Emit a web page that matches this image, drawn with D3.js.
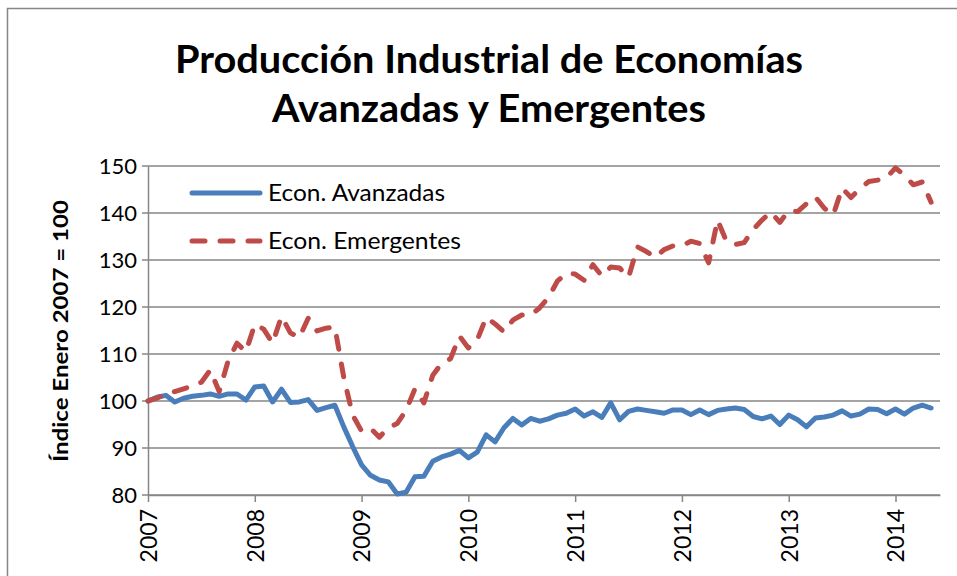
<!DOCTYPE html>
<html>
<head>
<meta charset="utf-8" />
<title>Producción Industrial</title>
<script src="https://d3js.org/d3.v7.min.js"></script>
<style>
  body { margin: 0; background: #fff; }
  svg text { font-family: Lato, "Open Sans", sans-serif; fill: #000; }
</style>
</head>
<body>
<div id="chart"></div>
<script>
// monthly index, Jan 2007 = 100 (Jan 2007 .. May 2014)
var avanzadas = [
  100, 100.8, 101.2, 99.8, 100.6, 101, 101.2, 101.5, 101, 101.5, 101.5, 100.2,   // 2007
  103, 103.2, 99.8, 102.5, 99.7, 99.8, 100.3, 98, 98.6, 99.1, 94.5, 90.3,         // 2008
  86.4, 84.2, 83.2, 82.8, 80.2, 80.6, 83.9, 84, 87.2, 88.1, 88.7, 89.5,           // 2009
  87.9, 89.1, 92.8, 91.3, 94.3, 96.3, 94.9, 96.3, 95.7, 96.2, 97, 97.4,           // 2010
  98.3, 96.8, 97.7, 96.5, 99.6, 96, 97.8, 98.3, 98, 97.7, 97.4, 98.1,             // 2011
  98.1, 97.1, 98.1, 97.1, 98, 98.3, 98.5, 98.2, 96.7, 96.2, 96.8, 95,             // 2012
  97, 96, 94.5, 96.4, 96.6, 97, 97.9, 96.8, 97.2, 98.3, 98.2, 97.3,               // 2013
  98.3, 97.2, 98.5, 99.1, 98.5                                                    // 2014
];
var emergentes = [
  100, 100.6, 101.5, 102, 102.6, 103.2, 104, 106.6, 102, 108.5, 112.3, 110.5,     // 2007
  116.3, 115.3, 112.3, 118, 114.5, 113.5, 117.6, 114.9, 115.5, 115.7, 105, 97,    // 2008
  93.6, 94.2, 92.3, 94.3, 95.2, 98, 102.6, 99.6, 105.5, 108, 109, 113.8,          // 2009
  111.3, 113, 117.8, 116.4, 114.7, 117.2, 118.3, 118.3, 119.8, 122, 125.5, 127.2, // 2010
  127, 125.7, 129, 126.6, 128.5, 128.3, 126.3, 132.8, 131.8, 130.6, 132.2, 133,   // 2011
  133, 134, 133.5, 129.4, 138.5, 134, 133.3, 133.7, 136.5, 138.5, 140.2, 138,     // 2012
  140.5, 140.3, 142, 143.4, 141, 139.6, 145.3, 143.3, 145.2, 146.7, 147, 147.5,   // 2013
  149.6, 148, 146, 146.6, 142.3                                                   // 2014
];
var yearLabels = ["2007", "2008", "2009", "2010", "2011", "2012", "2013", "2014"];
var yTicks = [80, 90, 100, 110, 120, 130, 140, 150];
var seriesNames = ["Econ. Avanzadas", "Econ. Emergentes"];

var W = 957, H = 576;
var blue = "#4a7ebb", red = "#be4b48", gridColor = "#868686";

var svg = d3.select("#chart").append("svg")
    .attr("width", W)
    .attr("height", H);

var x = d3.scaleLinear().domain([0, 89]).range([148, 940]);
var y = d3.scaleLinear().domain([80, 150]).range([495, 166]);

// outer chart frame (only top and left edges visible)
svg.append("path")
    .attr("d", "M7.5," + H + "V8.5H" + W)
    .style("fill", "none")
    .style("stroke", gridColor)
    .style("stroke-width", 1.5);

// title
var title = svg.append("text")
    .attr("text-anchor", "middle")
    .style("font-weight", "bold")
    .style("font-size", "39px");
title.append("tspan").attr("x", 489).attr("y", 73)
    .attr("textLength", 628).attr("lengthAdjust", "spacingAndGlyphs")
    .text("Producción Industrial de Economías");
title.append("tspan").attr("x", 489).attr("y", 122)
    .attr("textLength", 434).attr("lengthAdjust", "spacingAndGlyphs")
    .text("Avanzadas y Emergentes");

// horizontal gridlines
svg.append("g")
  .selectAll("line")
    .data(yTicks)
    .enter().append("line")
    .attr("x1", x(0) - 6)
    .attr("x2", x(89))
    .attr("y1", function(d) { return y(d); })
    .attr("y2", function(d) { return y(d); })
    .style("stroke", gridColor)
    .style("stroke-width", 1.5);

// y axis
var yAxis = d3.axisLeft(y).tickValues(yTicks).tickSize(0).tickPadding(11);
var gy = svg.append("g")
    .attr("transform", "translate(" + x(0) + ",0)")
    .call(yAxis);
gy.select(".domain").style("stroke", gridColor).style("stroke-width", 1.5);
gy.selectAll("text").style("font-size", "22px").attr("dy", "0.36em");

// x axis, a tick each January
var xAxis = d3.axisBottom(x)
    .tickValues(yearLabels.map(function(d, i) { return i * 12; }))
    .tickFormat(function(d) { return yearLabels[d / 12]; })
    .tickSize(7)
    .tickSizeOuter(0);
var gx = svg.append("g")
    .attr("transform", "translate(0," + y(80) + ")")
    .call(xAxis);
gx.select(".domain").style("stroke", gridColor).style("stroke-width", 1.5);
gx.selectAll(".tick line").style("stroke", gridColor).style("stroke-width", 1.5);
gx.selectAll("text")
    .style("font-size", "23px")
    .attr("text-anchor", "end")
    .attr("transform", "rotate(-90)")
    .attr("x", -14)
    .attr("y", 0)
    .attr("dy", "0.36em");

// y axis title
svg.append("text")
    .attr("text-anchor", "middle")
    .attr("transform", "translate(68,331) rotate(-90)")
    .attr("textLength", 262)
    .attr("lengthAdjust", "spacingAndGlyphs")
    .style("font-weight", "bold")
    .style("font-size", "21px")
    .text("Índice Enero 2007 = 100");

// lines
var line = d3.line()
    .x(function(d, i) { return x(i); })
    .y(function(d) { return y(d); });

svg.append("path")
    .datum(avanzadas)
    .attr("d", line)
    .style("fill", "none")
    .style("stroke", blue)
    .style("stroke-width", 5)
    .style("stroke-linejoin", "round")
    .style("stroke-linecap", "round");

svg.append("path")
    .datum(emergentes)
    .attr("d", line)
    .style("fill", "none")
    .style("stroke", red)
    .style("stroke-width", 5)
    .style("stroke-dasharray", "13,15")
    .style("stroke-linejoin", "round")
    .style("stroke-linecap", "round");

// legend
var legend = svg.append("g");
var legendY = [193, 241];
var legendColors = [blue, red];
var legendWidths = [177, 193];
legend.selectAll("line")
    .data(seriesNames)
    .enter().append("line")
    .attr("x1", 192).attr("x2", 260)
    .attr("y1", function(d, i) { return legendY[i]; })
    .attr("y2", function(d, i) { return legendY[i]; })
    .style("stroke", function(d, i) { return legendColors[i]; })
    .style("stroke-width", 5)
    .style("stroke-linecap", "round")
    .style("stroke-dasharray", function(d, i) { return i == 1 ? "13,15" : null; });
legend.selectAll("text")
    .data(seriesNames)
    .enter().append("text")
    .attr("x", 268)
    .attr("y", function(d, i) { return legendY[i]; })
    .attr("dy", "0.36em")
    .attr("textLength", function(d, i) { return legendWidths[i]; })
    .attr("lengthAdjust", "spacingAndGlyphs")
    .style("font-size", "23px")
    .text(function(d) { return d; });
</script>
</body>
</html>
